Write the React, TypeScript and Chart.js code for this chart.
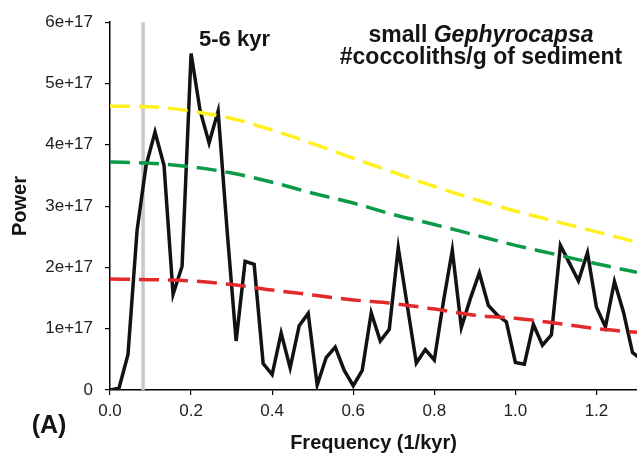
import React, { useEffect, useRef } from 'react';
import { Chart, registerables } from 'chart.js';

Chart.register(...registerables);

// Frequency grid of the spectrum (1/kyr)
const frequencies = [
  0.0, 0.0222, 0.0444, 0.0667, 0.0889, 0.1111, 0.1333, 0.1556, 0.1778, 0.2,
  0.2222, 0.2444, 0.2667, 0.2889, 0.3111, 0.3333, 0.3556, 0.3778, 0.4, 0.4222,
  0.4444, 0.4667, 0.4889, 0.5111, 0.5333, 0.5556, 0.5778, 0.6, 0.6222, 0.6444,
  0.6667, 0.6889, 0.7111, 0.7333, 0.7556, 0.7778, 0.8, 0.8222, 0.8444, 0.8667,
  0.8889, 0.9111, 0.9333, 0.9556, 0.9778, 1.0, 1.0222, 1.0444, 1.0667, 1.0889,
  1.1111, 1.1333, 1.1556, 1.1778, 1.2, 1.2222, 1.2444, 1.2667, 1.2889, 1.3111,
];

// Power in units of 1e17
const powerE17 = [
  0.0, 0.03, 0.58, 2.6, 3.66, 4.21, 3.66, 1.56, 2.02, 5.49,
  4.56, 4.03, 4.55, 2.6, 0.8, 2.1, 2.05, 0.43, 0.25, 0.93,
  0.36, 1.05, 1.25, 0.08, 0.53, 0.7, 0.32, 0.07, 0.32, 1.26,
  0.8, 0.99, 2.32, 1.38, 0.44, 0.66, 0.49, 1.43, 2.28, 1.02,
  1.49, 1.91, 1.38, 1.22, 1.11, 0.45, 0.42, 1.07, 0.73, 0.9,
  2.36, 2.07, 1.78, 2.24, 1.35, 1.03, 1.77, 1.27, 0.61, 0.5,
];

// Confidence-level curves (units of 1e17)
const levelFreqs = [0.0, 0.1, 0.2, 0.3, 0.4, 0.5, 0.6, 0.7, 0.8, 0.9, 1.0, 1.1, 1.2, 1.3];
const yellowE17 = [4.63, 4.62, 4.55, 4.43, 4.24, 4.02, 3.78, 3.55, 3.32, 3.11, 2.92, 2.75, 2.58, 2.41];
const greenE17 = [3.72, 3.7, 3.64, 3.54, 3.39, 3.21, 3.05, 2.86, 2.7, 2.53, 2.36, 2.21, 2.06, 1.92];
const redE17 = [1.81, 1.8, 1.78, 1.72, 1.63, 1.55, 1.47, 1.41, 1.32, 1.22, 1.17, 1.09, 1.0, 0.94];

// Vertical marker frequency
const markerFreq = 0.0815;

const SCALE = 1e17;
const xMin = 0;
const xMax = 1.3;
const yMin = 0;
const yMax = 6;

const FONT = '"Liberation Sans", Arial, sans-serif';

const toPoints = (xs: number[], ys: number[]) => xs.map((x, i) => ({ x, y: ys[i] * SCALE }));

const annotationPlugin = {
  id: 'annotations',
  afterDraw(chart: any) {
    const ctx = chart.ctx as CanvasRenderingContext2D;
    ctx.save();
    ctx.fillStyle = '#141414';
    ctx.textBaseline = 'alphabetic';

    // 5-6 kyr
    ctx.font = `bold 22px ${FONT}`;
    ctx.textAlign = 'left';
    ctx.fillText('5-6 kyr', 199, 46);

    // small Gephyrocapsa
    const cx = 481;
    ctx.font = `bold 23px ${FONT}`;
    const w1 = ctx.measureText('small ').width;
    ctx.font = `italic bold 23px ${FONT}`;
    const w2 = ctx.measureText('Gephyrocapsa').width;
    const start = cx - (w1 + w2) / 2;
    ctx.font = `bold 23px ${FONT}`;
    ctx.fillText('small ', start, 42);
    ctx.font = `italic bold 23px ${FONT}`;
    ctx.fillText('Gephyrocapsa', start + w1, 42);

    ctx.font = `bold 23px ${FONT}`;
    ctx.textAlign = 'center';
    ctx.fillText('#coccoliths/g of sediment', cx, 64);

    // (A)
    ctx.font = `bold 25px ${FONT}`;
    ctx.textAlign = 'center';
    ctx.textBaseline = 'middle';
    ctx.fillText('(A)', 49, 426);

    ctx.restore();
  },
};

export default function App() {
  const canvasRef = useRef<HTMLCanvasElement | null>(null);

  useEffect(() => {
    if (!canvasRef.current) return;
    const chart = new Chart(canvasRef.current, {
      type: 'line',
      data: {
        datasets: [
          {
            label: 'yellow',
            data: toPoints(levelFreqs, yellowE17),
            borderColor: '#fff01e',
            borderWidth: 3.5,
            borderDash: [20, 9],
            pointRadius: 0,
            cubicInterpolationMode: 'monotone',
            order: 0,
          },
          {
            label: 'green',
            data: toPoints(levelFreqs, greenE17),
            borderColor: '#0b9a48',
            borderWidth: 3.5,
            borderDash: [20, 9],
            pointRadius: 0,
            cubicInterpolationMode: 'monotone',
            order: 0,
          },
          {
            label: 'red',
            data: toPoints(levelFreqs, redE17),
            borderColor: '#e2292b',
            borderWidth: 3.5,
            borderDash: [20, 9],
            pointRadius: 0,
            cubicInterpolationMode: 'monotone',
            order: 0,
          },
          {
            label: 'power',
            data: toPoints(frequencies, powerE17),
            borderColor: '#121212',
            borderWidth: 3.5,
            pointRadius: 0,
            tension: 0,
            order: 1,
          },
          {
            label: 'marker',
            data: [
              { x: markerFreq, y: yMin * SCALE },
              { x: markerFreq, y: yMax * SCALE },
            ],
            borderColor: '#c9c9c9',
            borderWidth: 3.5,
            pointRadius: 0,
            order: 2,
          },
        ],
      },
      options: {
        responsive: false,
        animation: false,
        events: [],
        layout: { padding: { top: 13, right: 0, left: 0, bottom: 0 } },
        plugins: {
          legend: { display: false },
          tooltip: { enabled: false },
          title: { display: false },
        },
        scales: {
          x: {
            type: 'linear',
            min: xMin,
            max: xMax,
            afterFit: (s: any) => {
              s.height = 78;
            },
            grid: {
              display: true,
              drawOnChartArea: false,
              drawTicks: true,
              tickLength: 5,
              color: '#000',
              lineWidth: 1.2,
            },
            border: { display: true, color: '#000', width: 1.5 },
            ticks: {
              stepSize: 0.2,
              includeBounds: false,
              maxRotation: 0,
              autoSkip: false,
              padding: 6,
              color: '#222',
              font: { family: FONT, size: 17 },
              callback: (v: any) => Number(v).toFixed(1),
            },
            title: {
              display: true,
              text: 'Frequency (1/kyr)',
              color: '#141414',
              font: { family: FONT, size: 20, weight: 'bold', lineHeight: 1.2 },
              padding: { top: 0, bottom: 13 },
            },
          },
          y: {
            type: 'linear',
            min: yMin * SCALE,
            max: yMax * SCALE,
            afterFit: (s: any) => {
              s.width = 110;
            },
            grid: {
              display: true,
              drawOnChartArea: false,
              drawTicks: true,
              tickLength: 5,
              color: '#000',
              lineWidth: 1.2,
            },
            border: { display: true, color: '#000', width: 1.5 },
            ticks: {
              stepSize: SCALE,
              padding: 12,
              color: '#222',
              font: { family: FONT, size: 17 },
              callback: (v: any) => {
                const n = Math.round(Number(v) / SCALE);
                return n === 0 ? '0' : `${n}e+17`;
              },
            },
            title: {
              display: true,
              text: 'Power',
              color: '#141414',
              font: { family: FONT, size: 20, weight: 'bold', lineHeight: 1.2 },
              padding: { top: 8, bottom: 0 },
            },
          },
        },
      },
      plugins: [annotationPlugin],
    } as any);
    return () => chart.destroy();
  }, []);

  return (
    <div style={{ position: 'absolute', left: 0, top: 0, width: 637, height: 468, background: '#fff' }}>
      <canvas ref={canvasRef} width={637} height={468} style={{ display: 'block' }} />
    </div>
  );
}
